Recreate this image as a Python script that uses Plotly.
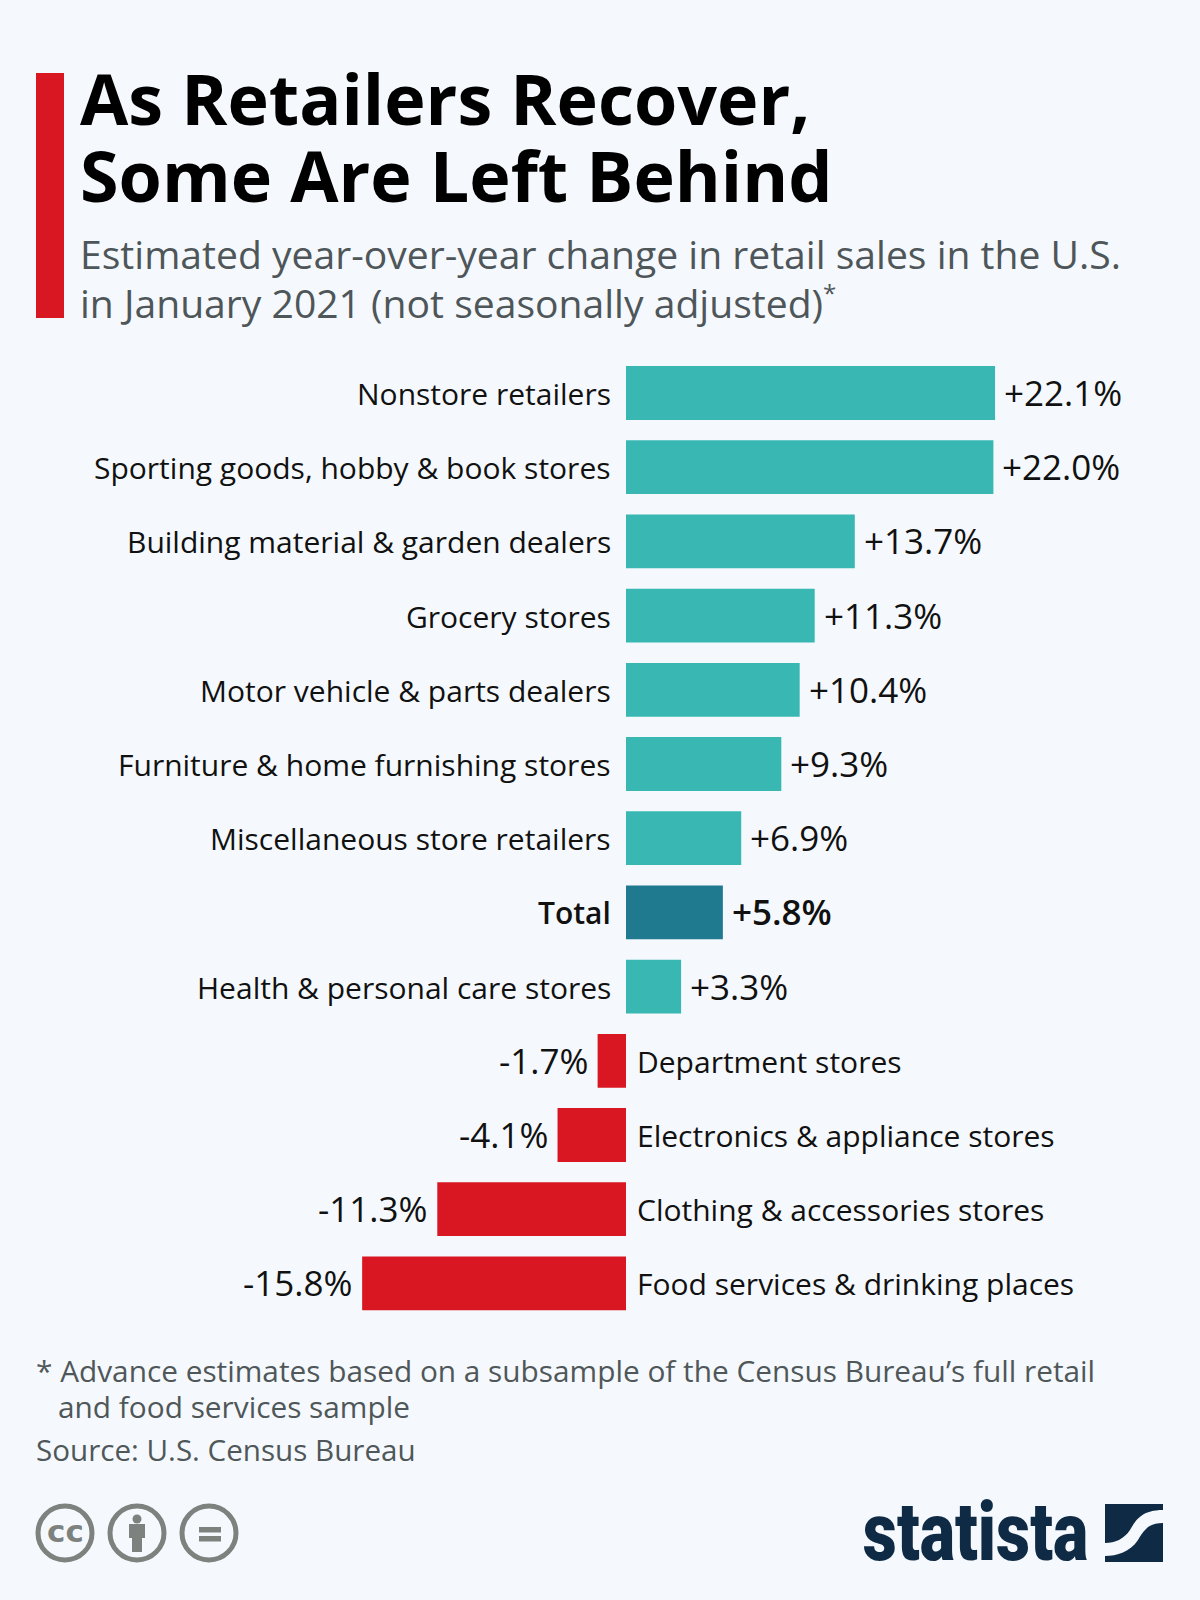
import plotly.graph_objects as go

categories = ["Nonstore retailers", "Sporting goods, hobby & book stores", "Building material & garden dealers",
              "Grocery stores", "Motor vehicle & parts dealers", "Furniture & home furnishing stores",
              "Miscellaneous store retailers", "Total", "Health & personal care stores", "Department stores",
              "Electronics & appliance stores", "Clothing & accessories stores", "Food services & drinking places"]
values = [22.1, 22.0, 13.7, 11.3, 10.4, 9.3, 6.9, 5.8, 3.3, -1.7, -4.1, -11.3, -15.8]
title_lines = ["As Retailers Recover,", "Some Are Left Behind"]
subtitle_lines = ["Estimated year-over-year change in retail sales in the U.S.",
                  "in January 2021 (not seasonally adjusted)<sup><span style=\"font-size:24px\">*</span></sup>"]
source_text = "Source: U.S. Census Bureau"
note_lines = ["* Advance estimates based on a subsample of the Census Bureau\u2019s full retail",
              "and food services sample"]

W, H = 1200, 1600
BG = "#f5f9fd"
TEAL, DARK, RED = "#39b7b2", "#1f7a90", "#d81722"
FONT = "Open Sans"
PX_PER_UNIT = 16.7
ZERO_PX = 626
TOP_CENTER, PITCH = 393, 74.2

def px(x): return x / W
def py(y): return 1 - y / H

colors = [DARK if c == "Total" else (TEAL if v > 0 else RED) for c, v in zip(categories, values)]

fig = go.Figure(go.Bar(y=categories, x=values, orientation="h", marker=dict(color=colors, line_width=0),
                       width=0.725, hoverinfo="skip"))

ann = []
def text(s, x, y, size, color, anchor="left", family=FONT, weight="normal"):
    ann.append(dict(text=s, x=px(x), y=py(y), xref="paper", yref="paper",
                    xanchor=anchor, yanchor="middle", showarrow=False, borderpad=0,
                    font=dict(family=family, size=size, color=color, weight=weight)))

text(title_lines[0], 79, 98.5, 70, "#000000", weight=700)
text(title_lines[1], 79, 174.5, 70, "#000000", weight=700)
text(subtitle_lines[0], 79, 254, 39.1, "#4e5659")
text(subtitle_lines[1], 79, 303, 39.1, "#4e5659")
text(note_lines[0], 35, 1370, 29.8, "#4f5759")
text(note_lines[1], 57, 1406, 29.8, "#4f5759")
text(source_text, 35, 1449, 29.6, "#4f5759")

for c, v in zip(categories, values):
    weight = 600 if c == "Total" else 400
    pos = v > 0
    ann.append(dict(x=0, y=c, xref="x", yref="y", text=c, showarrow=False,
                    xanchor="right" if pos else "left", xshift=-14 if pos else 10, yanchor="middle", yshift=-0.5,
                    font=dict(family=FONT, size=30, color="#111111", weight=weight), borderpad=0))
    lab = f"{v:+.1f}%"
    ann.append(dict(x=v, y=c, xref="x", yref="y", text=lab, showarrow=False,
                    xanchor="left" if pos else "right", xshift=8 if pos else -9, yanchor="middle", yshift=0.5,
                    font=dict(family=FONT, size=35, color="#111111", weight=weight), borderpad=0))

# Logo wordmark and CC glyph
text("statista", 1089, 1532, 82, "#0f2a45", anchor="right", family="Roboto", weight=900)
text("cc", 65, 1531, 31, "#7d827f", anchor="center", family="DejaVu Sans", weight=700)

shapes = []
def P(x, y): return f"{px(x)},{py(y)}"
def rect(x0, y0, x1, y1, color):
    shapes.append(dict(type="rect", xref="paper", yref="paper", x0=px(x0), x1=px(x1), y0=py(y0), y1=py(y1),
                       fillcolor=color, line_width=0, layer="above"))
def circle(cx, cy, r, fill, line=None, lw=0):
    shapes.append(dict(type="circle", xref="paper", yref="paper", x0=px(cx - r), x1=px(cx + r), y0=py(cy - r), y1=py(cy + r),
                       fillcolor=fill, line=dict(color=line, width=lw) if lw else dict(width=0), layer="above"))

rect(36, 73, 64, 318, RED)
GREY = "#7d827f"
for cx in (65, 137, 209):
    circle(cx, 1533, 27, "rgba(0,0,0,0)", GREY, 5)
circle(137, 1519, 4.5, GREY)
rect(129, 1524, 145, 1538, GREY)
rect(132, 1538, 142, 1552, GREY)
rect(199, 1527, 221, 1532.5, GREY)
rect(199, 1536, 221, 1541.5, GREY)

NAVY = "#0f2a45"
shapes.append(dict(type="path", xref="paper", yref="paper", fillcolor=NAVY, line_width=0, layer="above",
    path=f"M{P(1105,1504)} L{P(1163,1504)} L{P(1163,1510)} C{P(1140,1510)} {P(1135,1522)} {P(1130,1530)} "
         f"C{P(1124,1539)} {P(1115,1543)} {P(1105,1543)} Z"))
shapes.append(dict(type="path", xref="paper", yref="paper", fillcolor=NAVY, line_width=0, layer="above",
    path=f"M{P(1163,1523)} C{P(1150,1523)} {P(1145,1528)} {P(1138,1540)} "
         f"C{P(1130,1552)} {P(1117,1556)} {P(1105,1556)} L{P(1105,1562)} L{P(1163,1562)} Z"))

fig.update_layout(width=W, height=H, margin=dict(l=0, r=0, t=0, b=0), paper_bgcolor=BG, plot_bgcolor=BG,
                  showlegend=False, hovermode=False, annotations=ann, shapes=shapes,
                  font=dict(family=FONT))
fig.update_xaxes(visible=False, range=[-ZERO_PX / PX_PER_UNIT, (W - ZERO_PX) / PX_PER_UNIT], fixedrange=True)
fig.update_yaxes(visible=False, type="category", categoryorder="array", categoryarray=categories,
                 range=[(H - TOP_CENTER) / PITCH, -TOP_CENTER / PITCH], fixedrange=True)

post = f"""
document.body.style.margin='0';document.body.style.background='{BG}';
document.querySelectorAll('text.annotation-text').forEach(function(t){{
  if(t.textContent==='statista'){{
    t.style.transformBox='fill-box';t.style.transformOrigin='right center';t.style.transform='scaleX(0.81)';
  }}
}});
"""
fig.write_html("out.html", config=dict(displayModeBar=False), post_script=post)
